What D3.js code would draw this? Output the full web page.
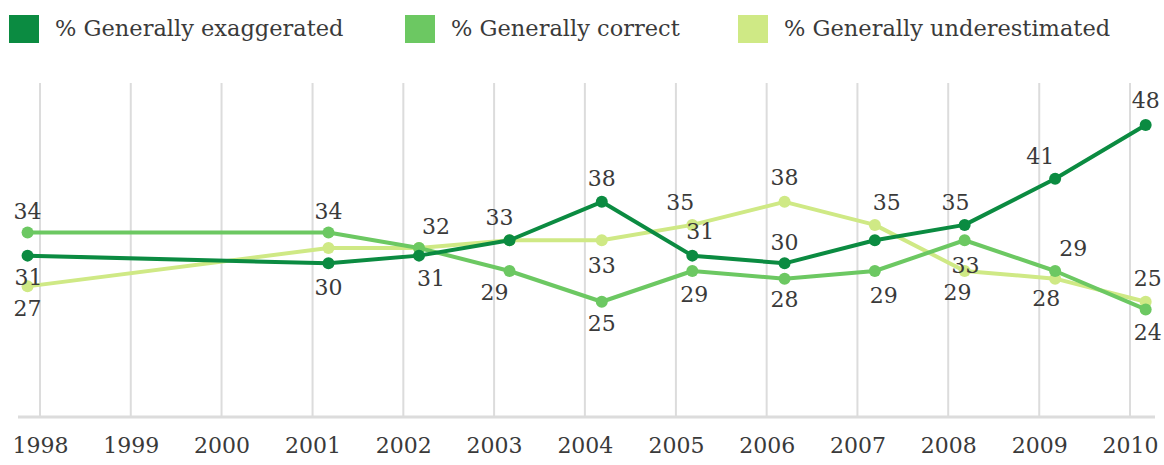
<!DOCTYPE html>
<html>
<head>
<meta charset="utf-8">
<script src="https://cdn.jsdelivr.net/npm/d3@7/dist/d3.min.js"></script>
<style>
  html, body { margin: 0; padding: 0; background: #fff; }
  svg { display: block; }
  text { font-family: "DejaVu Serif", "Liberation Serif", serif; fill: #3a3a3a; }
</style>
</head>
<body>
<svg id="chart" width="1164" height="465"></svg>
<script>
// Axis years (gridlines / tick labels)
const years = [1998, 1999, 2000, 2001, 2002, 2003, 2004, 2005, 2006, 2007, 2008, 2009, 2010];

// Fieldwork dates of each poll
const pollDates = ["1997-11-12", "2001-03-06", "2002-03-05", "2003-03-04", "2004-03-09",
                   "2005-03-08", "2006-03-14", "2007-03-12", "2008-03-07", "2009-03-06", "2010-03-05"];

// Percentages per series
const exaggerated    = [31, 30, 31, 33, 38, 31, 30, 33, 35, 41, 48];
const correct        = [34, 34, 32, 29, 25, 29, 28, 29, 33, 29, 24];
const underestimated = [27, 32, 32, 33, 33, 35, 38, 35, 29, 28, 25];

const seriesNames = ["% Generally exaggerated", "% Generally correct", "% Generally underestimated"];
const seriesColors = ["#0b8b41", "#6cc862", "#cfe985"];

// Value-label placement [dx, dy] relative to each point; null = no label
const exaggeratedLabelPos = [[1, 22], [0, 24], [12, 23], null, [0, -23], [8, -24], [0, -21], null, [-9, -22], [-15, -22], [0, -25]];
const correctLabelPos     = [[0, -21], [0, -21], [17, -21], [-15, 21], [0, 22], [2, 23], [0, 21], [9, 24], [1, 25], [18, -23], [2, 23]];
const underLabelPos       = [[0, 22], null, null, [-10, -23], [0, 25], [-12, -22], [0, -24], [12, -22], [-7, 21], [-9, 20], [2, -23]];

const parseDate = d3.timeParse("%Y-%m-%d");
const dates = pollDates.map(parseDate);

const series = [
  { name: seriesNames[0], color: seriesColors[0], values: exaggerated, labels: exaggeratedLabelPos },
  { name: seriesNames[1], color: seriesColors[1], values: correct, labels: correctLabelPos },
  { name: seriesNames[2], color: seriesColors[2], values: underestimated, labels: underLabelPos }
];

const svg = d3.select("#chart");

const gridTop = 83, baseY = 417;
const x = d3.scaleTime()
  .domain([new Date(1998, 0, 1), new Date(2010, 0, 1)])
  .range([40, 1130]);
const y = d3.scaleLinear()
  .domain([10, 48])
  .range([baseY, 125]);

// Vertical gridlines at each year
svg.append("g").selectAll("line")
  .data(years)
  .join("line")
  .attr("x1", d => x(new Date(d, 0, 1)))
  .attr("x2", d => x(new Date(d, 0, 1)))
  .attr("y1", gridTop)
  .attr("y2", baseY)
  .attr("stroke", "#dcdcdc")
  .attr("stroke-width", 2);

// Baseline
svg.append("line")
  .attr("x1", 18).attr("x2", 1155)
  .attr("y1", baseY).attr("y2", baseY)
  .attr("stroke", "#dcdcdc")
  .attr("stroke-width", 3);

// Year labels via axis
const xAxis = d3.axisBottom(x)
  .tickValues(years.map(d => new Date(d, 0, 1)))
  .tickFormat(d3.timeFormat("%Y"))
  .tickSize(0)
  .tickPadding(0);
const axisG = svg.append("g")
  .attr("transform", `translate(0, ${baseY})`)
  .call(xAxis);
axisG.select(".domain").remove();
axisG.selectAll("text")
  .attr("y", 36)
  .attr("dy", 0)
  .style("font-family", "'DejaVu Serif', serif")
  .style("font-size", "22px")
  .style("fill", "#3a3a3a");

// Lines and markers
const line = d3.line()
  .x((d, i) => x(dates[i]))
  .y(d => y(d));

const sg = svg.append("g").selectAll("g")
  .data(series)
  .join("g");

// Draw in reverse so the exaggerated series sits on top
sg.sort((a, b) => series.indexOf(b) - series.indexOf(a));

sg.append("path")
  .attr("d", s => line(s.values))
  .attr("fill", "none")
  .attr("stroke", s => s.color)
  .attr("stroke-width", 4)
  .attr("stroke-linejoin", "round");

sg.selectAll("circle")
  .data(s => s.values.map((v, i) => ({ v, i, color: s.color })))
  .join("circle")
  .attr("cx", d => x(dates[d.i]))
  .attr("cy", d => y(d.v))
  .attr("r", 6)
  .attr("fill", d => d.color);

// Value labels
const labelG = svg.append("g");
series.forEach(s => {
  s.values.forEach((v, i) => {
    const pos = s.labels[i];
    if (!pos) return;
    labelG.append("text")
      .attr("x", x(dates[i]) + pos[0])
      .attr("y", y(v) + pos[1])
      .attr("text-anchor", "middle")
      .attr("dominant-baseline", "central")
      .style("font-size", "22px")
      .text(v);
  });
});

// Legend
const legendX = [9, 405, 738];
const legend = svg.append("g").selectAll("g")
  .data(series)
  .join("g")
  .attr("transform", (d, i) => `translate(${legendX[i]}, 15)`);
legend.append("rect")
  .attr("width", 30).attr("height", 28)
  .attr("fill", d => d.color);
legend.append("text")
  .attr("x", 46)
  .attr("y", 21)
  .style("font-size", "22.5px")
  .text(d => d.name);
</script>
</body>
</html>
